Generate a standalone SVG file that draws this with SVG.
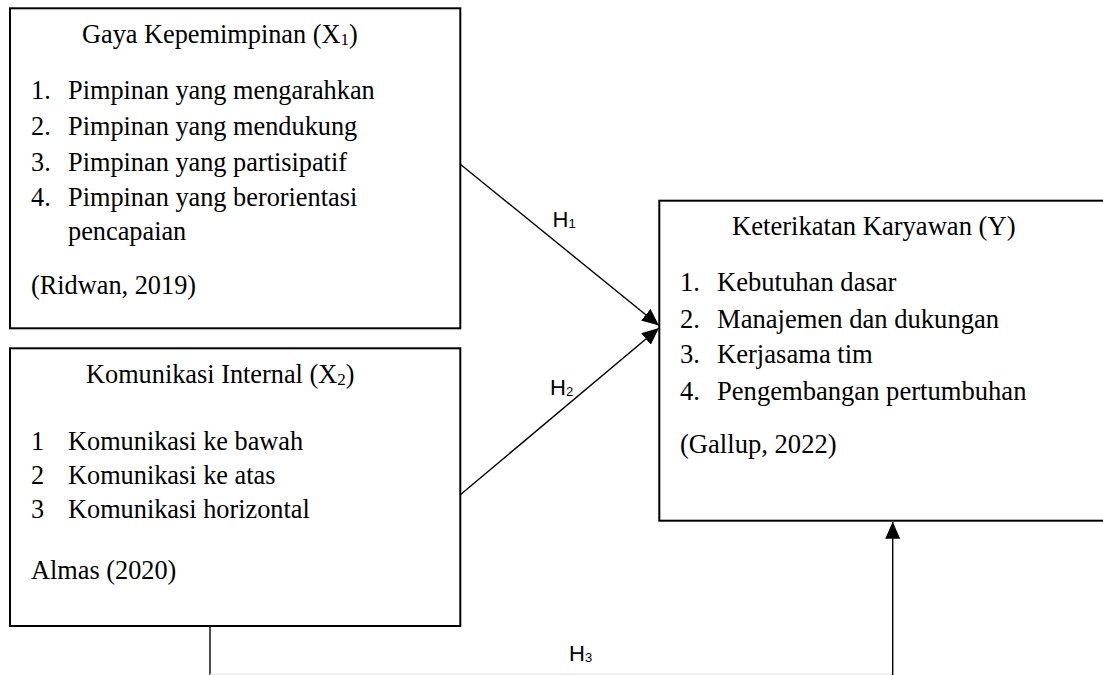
<svg xmlns="http://www.w3.org/2000/svg" width="1103" height="675" viewBox="0 0 1103 675">
<defs>
<style>
.box{fill:#fff;stroke:#000;stroke-width:2}
.t{font-family:"Liberation Serif","Times New Roman",serif;font-size:26.3px;fill:#000}
.t3{font-size:26.6px}
.sub{font-size:17px}
.h{font-family:"Liberation Sans",Arial,sans-serif;font-size:22px;fill:#000}
.hs{font-size:13px}
.conn{fill:none;stroke:#000;stroke-width:1.4}
</style>
<marker id="arr" markerUnits="userSpaceOnUse" markerWidth="18" markerHeight="16" refX="17" refY="7.5" orient="auto">
<path d="M0,0 L17,7.5 L0,15 z" fill="#000"/>
</marker>
</defs>
<rect width="1103" height="675" fill="#fff"/>
<g id="node-x1">
<rect class="box" x="10" y="8.3" width="450.3" height="320"/>
<text class="t" x="82" y="43">Gaya Kepemimpinan (X<tspan class="sub" dy="2">1</tspan><tspan dy="-2">)</tspan></text>
<text class="t" x="31" y="99">1.</text><text class="t" x="68" y="99">Pimpinan yang mengarahkan</text>
<text class="t" x="31" y="135">2.</text><text class="t" x="68" y="135">Pimpinan yang mendukung</text>
<text class="t" x="31" y="171">3.</text><text class="t" x="68" y="171">Pimpinan yang partisipatif</text>
<text class="t" x="31" y="206">4.</text><text class="t" x="68" y="206">Pimpinan yang berorientasi</text>
<text class="t" x="68" y="240">pencapaian</text>
<text class="t" x="31" y="294">(Ridwan, 2019)</text>
</g>
<g id="node-x2">
<rect class="box" x="10" y="348.3" width="450.3" height="277.7"/>
<text class="t" x="86" y="383">Komunikasi Internal (X<tspan class="sub" dy="2">2</tspan><tspan dy="-2">)</tspan></text>
<text class="t" x="31" y="450">1</text><text class="t" x="68" y="450">Komunikasi ke bawah</text>
<text class="t" x="31" y="484">2</text><text class="t" x="68" y="484">Komunikasi ke atas</text>
<text class="t" x="31" y="518">3</text><text class="t" x="68" y="518">Komunikasi horizontal</text>
<text class="t" x="31" y="579">Almas (2020)</text>
</g>
<g id="node-y">
<rect class="box" x="659.3" y="200.7" width="460" height="320"/>
<text class="t t3" x="732" y="235">Keterikatan Karyawan (Y)</text>
<text class="t t3" x="680" y="291">1.</text><text class="t t3" x="717" y="291">Kebutuhan dasar</text>
<text class="t t3" x="680" y="327.5">2.</text><text class="t t3" x="717" y="327.5">Manajemen dan dukungan</text>
<text class="t t3" x="680" y="363">3.</text><text class="t t3" x="717" y="363">Kerjasama tim</text>
<text class="t t3" x="680" y="399.5">4.</text><text class="t t3" x="717" y="399.5">Pengembangan pertumbuhan</text>
<text class="t t3" x="680" y="453">(Gallup, 2022)</text>
</g>
<g id="connectors">
<line class="conn" x1="460" y1="164" x2="659" y2="325.5" marker-end="url(#arr)"/>
<line class="conn" x1="460" y1="495" x2="659" y2="328" marker-end="url(#arr)"/>
<polyline class="conn" points="210,626 210,675"/>
<line x1="210" y1="674.5" x2="893" y2="674.5" stroke="#e6e6e6" stroke-width="1.4"/>
<line class="conn" x1="892.7" y1="675" x2="892.7" y2="521.7" marker-end="url(#arr)"/>
<text class="h" x="552.5" y="226.7">H<tspan class="hs" dy="1">1</tspan></text>
<text class="h" x="550" y="395">H<tspan class="hs" dy="1">2</tspan></text>
<text class="h" x="569" y="661">H<tspan class="hs" dy="1">3</tspan></text>
</g>
</svg>
